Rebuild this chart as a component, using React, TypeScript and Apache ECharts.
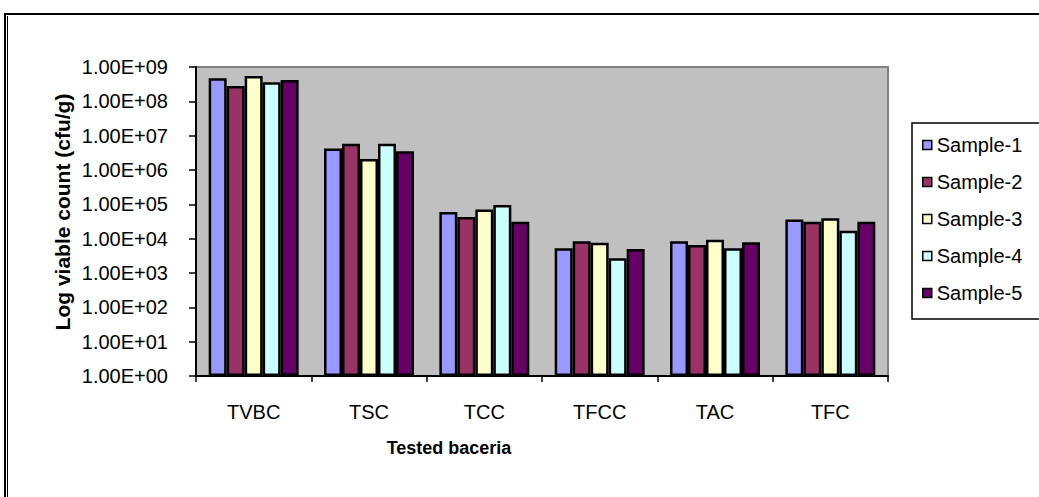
import React, { useEffect, useRef } from "react";
import * as echarts from "echarts";

const categories = ["TVBC", "TSC", "TCC", "TFCC", "TAC", "TFC"];
const seriesNames = ["Sample-1", "Sample-2", "Sample-3", "Sample-4", "Sample-5"];
const sample1 = [4.7e8, 4.2e6, 6.0e4, 5.3e3, 8.4e3, 3.6e4];
const sample2 = [2.8e8, 5.8e6, 4.3e4, 8.4e3, 6.5e3, 3.1e4];
const sample3 = [5.5e8, 2.1e6, 7.1e4, 7.6e3, 9.3e3, 3.9e4];
const sample4 = [3.6e8, 5.8e6, 9.5e4, 2.7e3, 5.3e3, 1.7e4];
const sample5 = [4.2e8, 3.5e6, 3.1e4, 5.0e3, 7.8e3, 3.1e4];
const seriesValues = [sample1, sample2, sample3, sample4, sample5];
const colors = ["#9999FF", "#993366", "#FFFFCC", "#CCFFFF", "#660066"];
const yAxisTitle = "Log viable count (cfu/g)";
const xAxisTitle = "Tested baceria";

const FONT = "'Liberation Sans', Arial, sans-serif";

export default function App() {
  const ref = useRef<HTMLDivElement>(null);
  useEffect(() => {
    if (!ref.current) return;
    const chart = echarts.init(ref.current, null, { renderer: "svg" });
    const fmt = (v: number) => {
      const e = Math.round(Math.log10(v));
      return "1.00E+" + (e < 10 ? "0" + e : String(e));
    };
    chart.setOption({
      animation: false,
      backgroundColor: "#ffffff",
      grid: {
        left: 196,
        top: 67,
        right: 151,
        bottom: 121,
        show: true,
        backgroundColor: "#C0C0C0",
        borderColor: "#808080",
        borderWidth: 2,
      },
      legend: {
        orient: "vertical",
        left: 922,
        top: 134,
        padding: 0,
        itemWidth: 9,
        itemHeight: 9,
        itemGap: 15,
        icon: "rect",
        itemStyle: { borderColor: "#000", borderWidth: 1.5 },
        textStyle: { fontFamily: FONT, fontSize: 20, color: "#000", lineHeight: 22 },
        data: seriesNames,
      },
      xAxis: {
        type: "category",
        data: categories,
        axisLine: { lineStyle: { color: "#000", width: 2 } },
        axisTick: { show: true, length: 6, lineStyle: { color: "#000", width: 1.5 } },
        axisLabel: { fontFamily: FONT, fontSize: 20, color: "#000", margin: 26 },
        splitLine: { show: false },
      },
      yAxis: {
        type: "log",
        logBase: 10,
        min: 1,
        max: 1e9,
        splitNumber: 9,
        axisLine: { show: true, lineStyle: { color: "#000", width: 2 } },
        axisTick: { show: true, length: 7, lineStyle: { color: "#000", width: 1.5 } },
        axisLabel: { fontFamily: FONT, fontSize: 20, color: "#000", margin: 28, formatter: fmt },
        splitLine: { show: false },
      },
      series: seriesNames.map((name, i) => ({
        name,
        type: "bar",
        data: seriesValues[i],
        barGap: "0%",
        barCategoryGap: "22%",
        itemStyle: { color: colors[i], borderColor: "#000", borderWidth: 2.5 },
      })),
      graphic: [
        {
          type: "rect",
          z: -10,
          shape: { x: 5, y: 14, width: 1100, height: 600 },
          style: { fill: "none", stroke: "#000", lineWidth: 2 },
        },
        {
          type: "line",
          z: -10,
          shape: { x1: 7.5, y1: 16, x2: 7.5, y2: 497 },
          style: { stroke: "#000", lineWidth: 1 },
        },
        {
          type: "rect",
          z: -5,
          shape: { x: 912, y: 123, width: 200, height: 196 },
          style: { fill: "#fff", stroke: "#000", lineWidth: 1.5 },
        },
        {
          type: "text",
          x: 62,
          y: 212,
          rotation: Math.PI / 2,
          style: {
            text: yAxisTitle,
            font: "bold 21px " + FONT,
            fill: "#000",
            align: "center",
            verticalAlign: "middle",
          },
        },
        {
          type: "text",
          x: 449,
          y: 448,
          style: {
            text: xAxisTitle,
            font: "bold 18px " + FONT,
            fill: "#000",
            align: "center",
            verticalAlign: "middle",
          },
        },
      ],
    });
    return () => chart.dispose();
  }, []);
  return (
    <div
      ref={ref}
      style={{ position: "fixed", left: 0, top: 0, width: 1039, height: 497 }}
    />
  );
}
